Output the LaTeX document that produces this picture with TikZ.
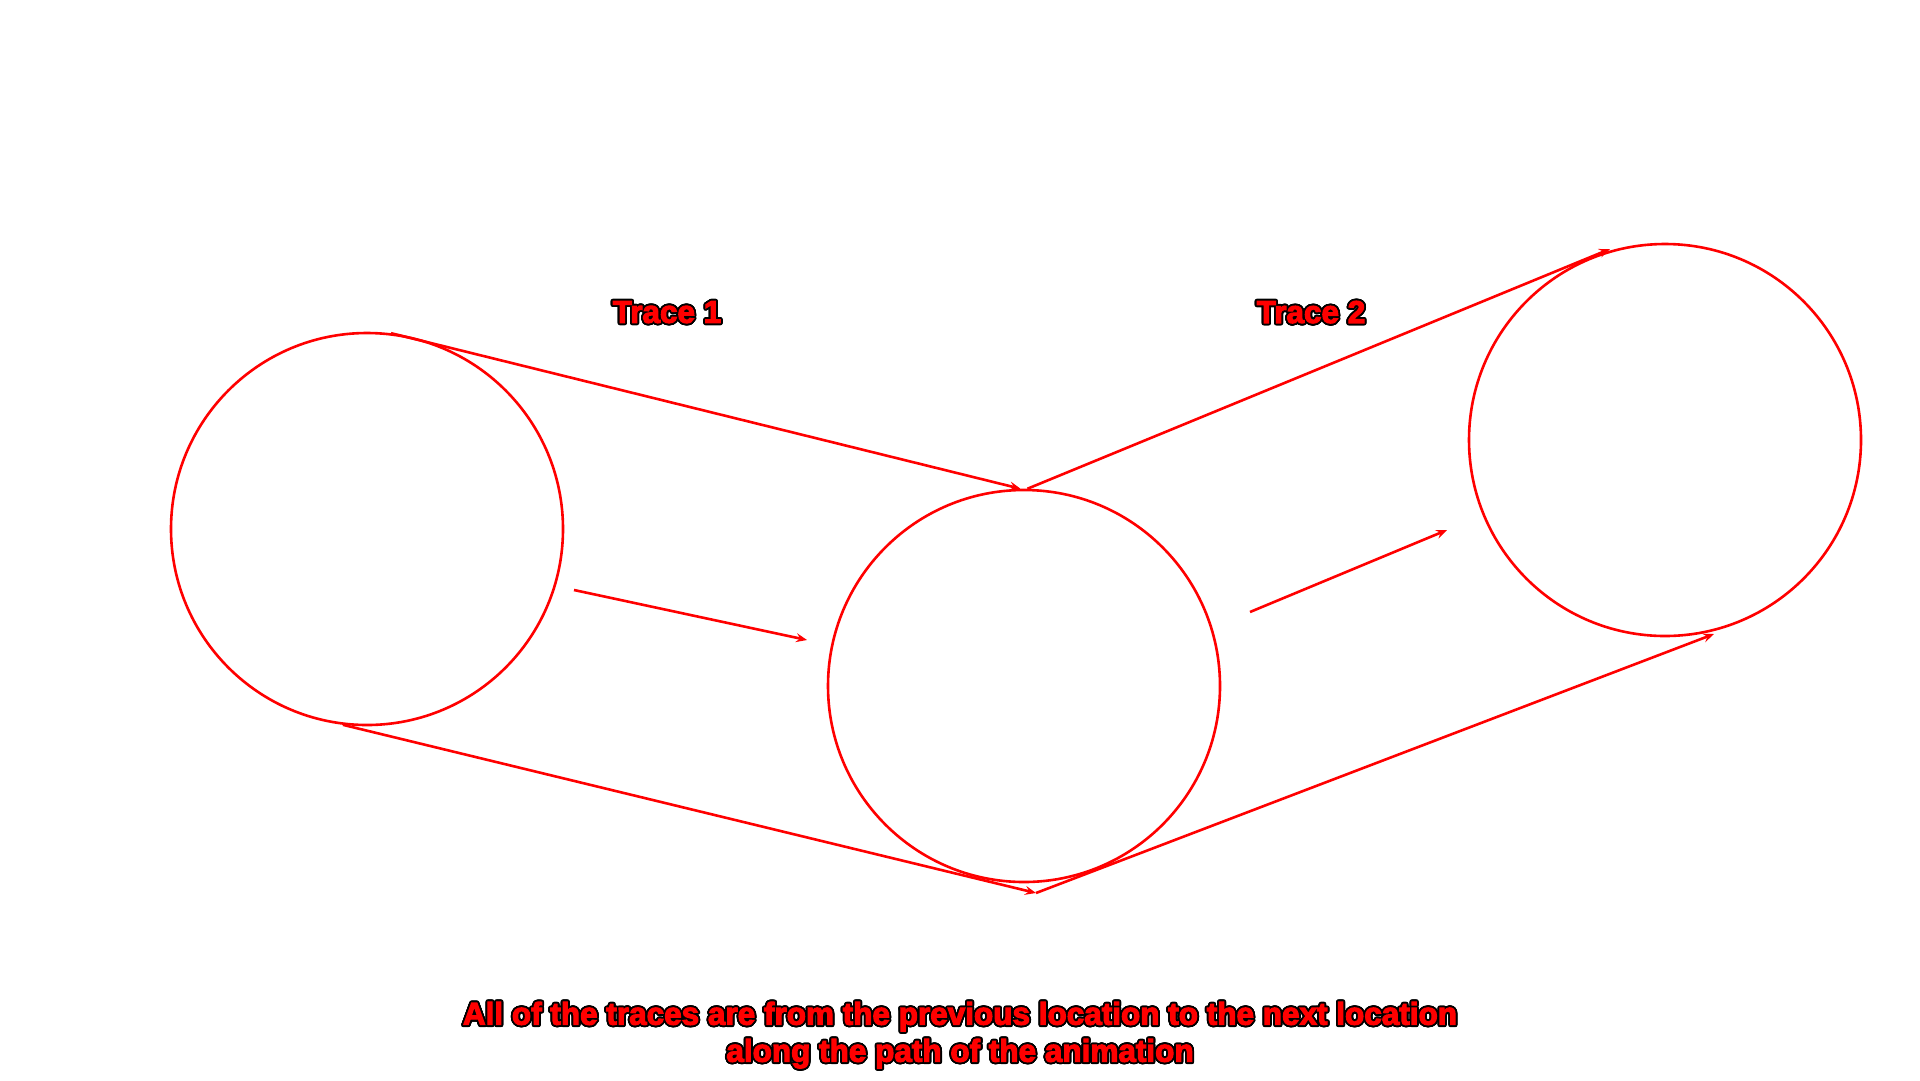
\documentclass[tikz,border=0pt]{standalone}
\usepackage{fontspec}
\usepackage{contour}
\usetikzlibrary{arrows.meta}
\newfontfamily\heavy{Liberation Sans Bold}[RawFeature={embolden=3.5}]
\contourlength{1.8pt}
\contournumber{24}
\tikzset{
  ring/.style={circle, draw=red, line width=2.6pt, minimum size=392pt, inner sep=0pt},
  trace/.style={draw=red, line width=2.6pt, -{Stealth[length=11pt,width=9pt,inset=4pt]}},
  label/.style={text=red, font=\heavy\fontsize{31.5pt}{33pt}\selectfont, inner sep=0pt},
  note/.style={text=red, font=\heavy\fontsize{31.5pt}{37pt}\selectfont, inner sep=0pt, align=center}
}
\begin{document}
\begin{tikzpicture}[x=1pt,y=-1pt]
\useasboundingbox[fill=white] (0,0) rectangle (1920,1080);
\node[ring] (c1) at (367,529) {};
\node[ring] (c2) at (1024,686) {};
\node[ring] (c3) at (1665,440) {};
\coordinate (b2) at (1036,893);
\coordinate (m1s) at (574,590);
\coordinate (m1e) at (807,640);
\coordinate (m2s) at (1250,612);
\coordinate (m2e) at (1447,530);
\coordinate (t3) at (1610,249);
\coordinate (b3) at (1714,634);
\draw[trace] (c1.83) -- (c2.91);
\draw[trace] (c1.263) -- (b2);
\draw[trace] (m1s) -- (m1e);
\draw[trace] (c2.89) -- (t3);
\draw[trace] (m2s) -- (m2e);
\draw[trace] (b2) -- (b3);
\node[label] (l1) at (667,313) {\contour{black}{Trace 1}};
\node[label] (l2) at (1311,313) {\contour{black}{Trace 2}};
\node[note] (n1) at (960,1036) {\contour{black}{All of the traces are from the previous location to the next location}\\\contour{black}{along the path of the animation}};
\end{tikzpicture}
\end{document}
